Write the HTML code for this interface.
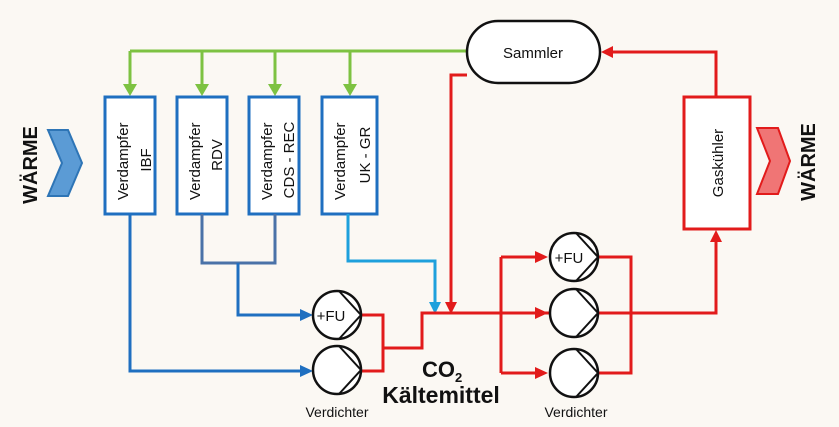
<!DOCTYPE html>
<html><head><meta charset="utf-8"><style>
html,body{margin:0;padding:0;background:#fbf8f3;}
svg{display:block;font-family:"Liberation Sans","DejaVu Sans",sans-serif;}
</style></head><body>
<svg width="839" height="427" viewBox="0 0 839 427" xmlns="http://www.w3.org/2000/svg">
<rect width="839" height="427" fill="#fbf8f3"/>
<!-- green supply -->
<g stroke="#7dc242" stroke-width="3" fill="none">
<path d="M130,51 H467"/>
<path d="M130,51 V86"/><path d="M202,51 V86"/><path d="M275,51 V86"/><path d="M350,51 V86"/>
</g>
<g fill="#7dc242">
<path d="M123,84 L137,84 L130,96Z"/><path d="M195,84 L209,84 L202,96Z"/><path d="M268,84 L282,84 L275,96Z"/><path d="M343,84 L357,84 L350,96Z"/>
</g>
<!-- evaporator boxes -->
<g stroke="#1f6fc0" stroke-width="3" fill="#fff">
<rect x="105" y="97" width="50" height="117"/>
<rect x="177" y="97" width="50" height="117"/>
<rect x="249" y="97" width="50" height="117"/>
<rect x="322" y="97" width="55" height="117"/>
</g>
<g font-size="15" fill="#111">
<text transform="translate(128,200) rotate(-90)">Verdampfer</text>
<text transform="translate(151,160) rotate(-90)" text-anchor="middle">IBF</text>
<text transform="translate(200,200) rotate(-90)">Verdampfer</text>
<text transform="translate(222,155) rotate(-90)" text-anchor="middle">RDV</text>
<text transform="translate(272,200) rotate(-90)">Verdampfer</text>
<text transform="translate(294,160) rotate(-90)" text-anchor="middle">CDS - REC</text>
<text transform="translate(345,200) rotate(-90)">Verdampfer</text>
<text transform="translate(370,155) rotate(-90)" text-anchor="middle">UK - GR</text>
</g>
<!-- blue lines -->
<g fill="none" stroke-width="3">
<path d="M130,214 V371 H302" stroke="#1f6fc0"/>
<path d="M202,214 V263 H275 V214" stroke="#4a72a8"/>
<path d="M238,263 V315 H302" stroke="#1f6fc0"/>
<path d="M348,214 V261 H435 V303" stroke="#1ea0dc"/>
</g>
<path d="M300,309 L313,315 L300,321Z" fill="#1f6fc0"/>
<path d="M300,365 L313,371 L300,377Z" fill="#1f6fc0"/>
<path d="M429,302 L441,302 L435,314Z" fill="#1ea0dc"/>
<!-- red lines -->
<g fill="none" stroke="#e21b1b" stroke-width="3">
<path d="M362,315 H383 V371 H362"/>
<path d="M383,348 H422 V313 H716 V240"/>
<path d="M467,75 H451 V303"/>
<path d="M501,257 V373"/>
<path d="M501,257 H537"/><path d="M501,313 H537"/><path d="M501,373 H537"/>
<path d="M598,257 H631 V373 H598"/>
<path d="M716,97 V52 H612"/>
</g>
<g fill="#e21b1b">
<path d="M445,302 L457,302 L451,314Z"/>
<path d="M535,251 L548,257 L535,263Z"/>
<path d="M535,307 L548,313 L535,319Z"/>
<path d="M535,367 L548,373 L535,379Z"/>
<path d="M710,242 L722,242 L716,230Z"/>
<path d="M613,46 L613,58 L601,52Z"/>
</g>
<!-- Sammler -->
<rect x="467" y="21" width="133" height="62" rx="31" fill="#fff" stroke="#111" stroke-width="2.5"/>
<text x="533" y="58" font-size="15" text-anchor="middle" fill="#111">Sammler</text>
<!-- Gaskühler -->
<rect x="684" y="97" width="66" height="132" fill="#fff" stroke="#e21b1b" stroke-width="3"/>
<text transform="translate(723,163) rotate(-90)" font-size="15" text-anchor="middle" fill="#111">Gaskühler</text>
<!-- pumps -->
<g fill="#fff" stroke="#111" stroke-width="2.5">
<circle cx="337" cy="315" r="24"/><circle cx="337" cy="370" r="24"/>
<circle cx="574" cy="257" r="24"/><circle cx="574" cy="313" r="24"/><circle cx="574" cy="373" r="24"/>
</g>
<g fill="none" stroke="#111" stroke-width="2">
<path d="M339,291 L361,315 L339,339"/>
<path d="M339,346 L361,370 L339,394"/>
<path d="M576,233 L598,257 L576,281"/>
<path d="M576,289 L598,313 L576,337"/>
<path d="M576,349 L598,373 L576,397"/>
</g>
<text x="331" y="321" font-size="15" text-anchor="middle" fill="#111">+FU</text>
<text x="569" y="263" font-size="15" text-anchor="middle" fill="#111">+FU</text>
<text x="337" y="417" font-size="14" text-anchor="middle" fill="#111">Verdichter</text>
<text x="576" y="417" font-size="14" text-anchor="middle" fill="#111">Verdichter</text>
<text x="422" y="377" font-size="22" font-weight="bold" fill="#111">CO<tspan font-size="13" dy="5">2</tspan></text>
<text x="441" y="403" font-size="23" font-weight="bold" text-anchor="middle" fill="#111">Kältemittel</text>
<!-- chevrons -->
<path d="M48,130 L68,130 L82,163 L68,196 L48,196 L62,163Z" fill="#5b9bd5" stroke="#2e75b6" stroke-width="2"/>
<path d="M757,128 L778,128 L790,161 L778,194 L757,194 L770,161Z" fill="#f07575" stroke="#e21b1b" stroke-width="2"/>
<text transform="translate(37,165) rotate(-90)" font-size="20" font-weight="bold" text-anchor="middle" fill="#111">WÄRME</text>
<text transform="translate(815,162) rotate(-90)" font-size="20" font-weight="bold" text-anchor="middle" fill="#111">WÄRME</text>
</svg>
</body></html>
